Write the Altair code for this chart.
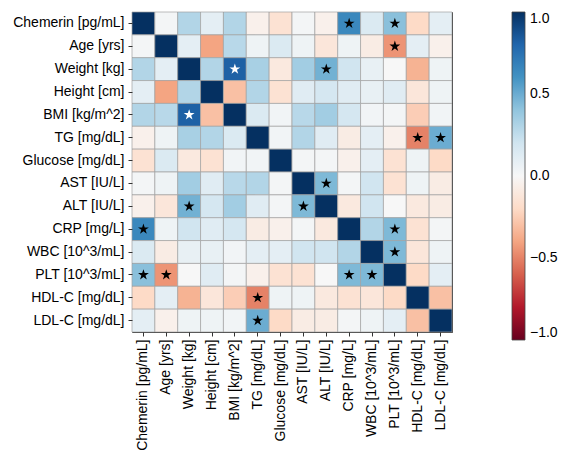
import altair as alt
import pandas as pd

# Variables, in the order they appear on both axes
labels = [
    "Chemerin [pg/mL]", "Age [yrs]", "Weight [kg]", "Height [cm]",
    "BMI [kg/m^2]", "TG [mg/dL]", "Glucose [mg/dL]", "AST [IU/L]",
    "ALT [IU/L]", "CRP [mg/L]", "WBC [10^3/mL]", "PLT [10^3/mL]",
    "HDL-C [mg/dL]", "LDL-C [mg/dL]",
]

# Upper triangle of the correlation matrix (row i, columns i+1 .. n-1)
upper = [
    [0.02, 0.30, 0.10, 0.30, -0.05, -0.15, 0.02, -0.05, 0.65, 0.15, 0.42, -0.20, 0.10],
    [0.10, -0.40, 0.28, 0.05, 0.15, 0.05, -0.12, 0.05, -0.08, -0.45, 0.10, -0.05],
    [0.30, 0.82, 0.33, -0.10, 0.35, 0.48, 0.20, 0.08, 0.00, -0.35, 0.05],
    [-0.30, 0.30, -0.15, 0.12, 0.18, 0.12, 0.08, 0.12, -0.12, 0.05],
    [0.15, 0.03, 0.28, 0.35, 0.18, 0.03, 0.02, -0.25, 0.03],
    [0.03, 0.30, 0.12, -0.08, 0.10, -0.05, -0.50, 0.50],
    [0.02, 0.02, -0.05, 0.10, -0.15, 0.05, -0.20],
    [0.45, 0.02, 0.20, -0.15, 0.05, -0.08],
    [-0.10, 0.20, 0.00, -0.10, -0.08],
    [0.30, 0.45, -0.15, 0.02],
    [0.45, -0.12, 0.05],
    [-0.20, 0.10],
    [-0.30],
]

# Pairs marked as significant (index pairs into labels)
significant = [
    (0, 9), (0, 11), (1, 11), (2, 4), (2, 8),
    (5, 12), (5, 13), (7, 8), (9, 11), (10, 11),
]

n = len(labels)
corr = [[1.0] * n for _ in range(n)]
for i, row in enumerate(upper):
    for k, v in enumerate(row):
        j = i + 1 + k
        corr[i][j] = v
        corr[j][i] = v

sig = set(significant) | {(j, i) for i, j in significant}

records = []
for i in range(n):
    for j in range(n):
        records.append({
            "row": labels[i],
            "col": labels[j],
            "r": corr[i][j],
            "sig": (i, j) in sig,
        })
df = pd.DataFrame(records)

# Diverging red-blue palette, -1 .. 1
rdbu = ["#67001f", "#b2182b", "#d6604d", "#f4a582", "#fddbc7", "#f7f7f7",
        "#d1e5f0", "#92c5de", "#4393c3", "#2166ac", "#053061"]
stops = [-1 + 0.2 * k for k in range(len(rdbu))]

STAR = ("M0,-1L0.2245,-0.309L0.951,-0.309L0.363,0.118L0.588,0.809"
        "L0,0.382L-0.588,0.809L-0.363,0.118L-0.951,-0.309L-0.2245,-0.309Z")

band = alt.Scale(paddingInner=0, paddingOuter=0)
x = alt.X("col:N", sort=labels, scale=band,
          axis=alt.Axis(title=None, labelAngle=-90, labelPadding=3))
y = alt.Y("row:N", sort=labels, scale=band,
          axis=alt.Axis(title=None, labelPadding=4))

cells = alt.Chart(df).mark_rect(stroke="#a0a0a0", strokeWidth=0.7).encode(
    x=x,
    y=y,
    color=alt.Color(
        "r:Q",
        scale=alt.Scale(domain=stops, range=rdbu, interpolate="rgb"),
        legend=alt.Legend(
            title=None,
            orient="none",
            legendX=380,
            legendY=0,
            direction="vertical",
            gradientLength=328,
            gradientThickness=13,
            gradientStrokeColor="#444444",
            gradientStrokeWidth=0.8,
            values=[-1, -0.5, 0, 0.5, 1],
            format=".1f",
            labelFont="Liberation Sans",
            labelFontSize=14,
            labelColor="black",
            labelOffset=5,
            labelBaseline="middle",
        ),
    ),
)

# Stars on significant cells: white on the darkest cells, black elsewhere
stars = alt.Chart(df).transform_filter("datum.sig").mark_point(
    shape=STAR, filled=True, size=130, opacity=1
).encode(
    x=x,
    y=y,
    fill=alt.condition("abs(datum.r) > 0.7", alt.value("white"), alt.value("black")),
)

chart = (
    (cells + stars)
    .properties(
        width=320,
        height=320,
        autosize=alt.AutoSizeParams(type="none"),
        padding={"left": 132, "top": 12, "right": 115, "bottom": 134},
        background="white",
    )
    .configure_view(stroke="#333333", strokeWidth=1)
    .configure_axis(
        labelFont="Liberation Sans",
        labelFontSize=14,
        labelColor="black",
        tickColor="#333333",
        tickSize=4,
        domain=False,
    )
)

chart.save("out.html", embed_options={"renderer": "svg", "actions": False})
